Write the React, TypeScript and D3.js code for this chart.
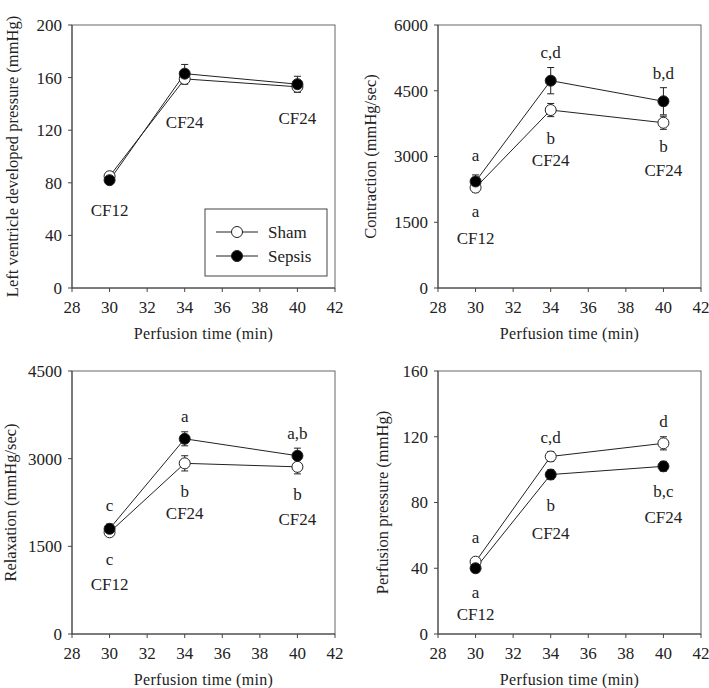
import React from "react";
import * as d3 from "d3";

// perfusion time points (min)
const times = [30, 34, 40];
const xTicks = [28, 30, 32, 34, 36, 38, 40, 42];

// Left ventricle developed pressure (mmHg)
const lvdpSham = [85, 159, 153];
const lvdpShamErr = [3, 4, 4];
const lvdpSepsis = [82, 163, 155];
const lvdpSepsisErr = [3, 7, 6];
const lvdpNotes = [
  { t: 30, v: 59, text: "CF12" },
  { t: 34, v: 126, text: "CF24" },
  { t: 40, v: 129, text: "CF24" },
];

// Contraction (mmHg/sec)
const conSham = [2290, 4060, 3770];
const conShamErr = [100, 150, 150];
const conSepsis = [2430, 4730, 4260];
const conSepsisErr = [150, 300, 310];
const conNotes = [
  { t: 30, v: 3030, text: "a" },
  { t: 30, v: 1750, text: "a" },
  { t: 30, v: 1150, text: "CF12" },
  { t: 34, v: 5380, text: "c,d" },
  { t: 34, v: 3420, text: "b" },
  { t: 34, v: 2910, text: "CF24" },
  { t: 40, v: 4900, text: "b,d" },
  { t: 40, v: 3230, text: "b" },
  { t: 40, v: 2690, text: "CF24" },
];

// Relaxation (mmHg/sec)
const relSham = [1740, 2920, 2860];
const relShamErr = [60, 130, 120];
const relSepsis = [1800, 3340, 3050];
const relSepsisErr = [80, 120, 130];
const relNotes = [
  { t: 30, v: 2210, text: "c" },
  { t: 30, v: 1280, text: "c" },
  { t: 30, v: 860, text: "CF12" },
  { t: 34, v: 3730, text: "a" },
  { t: 34, v: 2450, text: "b" },
  { t: 34, v: 2070, text: "CF24" },
  { t: 40, v: 3440, text: "a,b" },
  { t: 40, v: 2400, text: "b" },
  { t: 40, v: 1970, text: "CF24" },
];

// Perfusion pressure (mmHg)
const ppSham = [44, 108, 116];
const ppShamErr = [2, 3, 4];
const ppSepsis = [40, 97, 102];
const ppSepsisErr = [2, 3, 3];
const ppNotes = [
  { t: 30, v: 59, text: "a" },
  { t: 30, v: 25.7, text: "a" },
  { t: 30, v: 12.2, text: "CF12" },
  { t: 34, v: 119.8, text: "c,d" },
  { t: 34, v: 78.5, text: "b" },
  { t: 34, v: 61.6, text: "CF24" },
  { t: 40, v: 129.8, text: "d" },
  { t: 40, v: 87.2, text: "b,c" },
  { t: 40, v: 71.2, text: "CF24" },
];

const FONT = "'Liberation Serif', 'Times New Roman', 'DejaVu Serif', serif";
const INK = "#222";
const AXIS = "#444";

type Note = { t: number; v: number; text: string };

type PanelProps = {
  left: number;
  top: number;
  yMax: number;
  yStep: number;
  yLabel: string;
  labelGap: number;
  sham: number[];
  shamErr: number[];
  sepsis: number[];
  sepsisErr: number[];
  notes: Note[];
  legend?: boolean;
};

const W = 263;
const H = 263;

function Panel(p: PanelProps) {
  const x = d3.scaleLinear().domain([28, 42]).range([0, W]);
  const y = d3.scaleLinear().domain([0, p.yMax]).range([H, 0]);
  const yTicks = d3.range(0, p.yMax + 1, p.yStep);
  const line = d3
    .line<number>()
    .x((_, i) => x(times[i]))
    .y((d) => y(d));

  const errBars = (vals: number[], errs: number[]) =>
    vals.map((v, i) => {
      const cx = x(times[i]);
      const y1 = y(v + errs[i]);
      const y2 = y(v - errs[i]);
      return (
        <g key={i} stroke={INK} strokeWidth={1}>
          <line x1={cx} x2={cx} y1={y1} y2={y2} />
          <line x1={cx - 3.5} x2={cx + 3.5} y1={y1} y2={y1} />
          <line x1={cx - 3.5} x2={cx + 3.5} y1={y2} y2={y2} />
        </g>
      );
    });

  return (
    <g transform={`translate(${p.left},${p.top})`} style={{ fontFamily: FONT }} fill={INK}>
      <rect x={0} y={0} width={W} height={H} fill="none" stroke="#666" strokeWidth={1} />
      <line x1={0} x2={0} y1={0} y2={H} stroke={AXIS} />
      <line x1={0} x2={W} y1={H} y2={H} stroke={AXIS} />

      {yTicks.map((t) => (
        <g key={t} transform={`translate(0,${y(t)})`}>
          <line x1={-4} x2={0} stroke={AXIS} />
          <text x={-10} dy="0.35em" textAnchor="end" fontSize={17}>
            {t}
          </text>
        </g>
      ))}
      {xTicks.map((t) => (
        <g key={t} transform={`translate(${x(t)},${H})`}>
          <line y1={0} y2={4} stroke={AXIS} />
          <text y={25} textAnchor="middle" fontSize={17}>
            {t}
          </text>
        </g>
      ))}

      <text x={W / 2} y={H + 51} textAnchor="middle" fontSize={16} letterSpacing={0.3}>
        Perfusion time (min)
      </text>
      <text
        transform={`translate(${-p.labelGap},${H / 2}) rotate(-90)`}
        textAnchor="middle"
        fontSize={16.5}
      >
        {p.yLabel}
      </text>

      <path d={line(p.sham) || ""} fill="none" stroke={INK} strokeWidth={1} />
      <path d={line(p.sepsis) || ""} fill="none" stroke={INK} strokeWidth={1} />
      {errBars(p.sham, p.shamErr)}
      {errBars(p.sepsis, p.sepsisErr)}
      {p.sham.map((v, i) => (
        <circle key={"s" + i} cx={x(times[i])} cy={y(v)} r={5.5} fill="#fff" stroke={INK} strokeWidth={1} />
      ))}
      {p.sepsis.map((v, i) => (
        <circle key={"p" + i} cx={x(times[i])} cy={y(v)} r={5.5} fill="#000" stroke={INK} strokeWidth={1} />
      ))}

      {p.notes.map((n, i) => (
        <text key={i} x={x(n.t)} y={y(n.v)} dy="0.35em" textAnchor="middle" fontSize={17}>
          {n.text}
        </text>
      ))}

      {p.legend && (
        <g transform="translate(133,184)">
          <rect x={0} y={0} width={122} height={67} fill="#fff" stroke={AXIS} strokeWidth={1} />
          <line x1={11} x2={53} y1={23} y2={23} stroke={INK} />
          <circle cx={32} cy={23} r={5.5} fill="#fff" stroke={INK} />
          <text x={63} y={23} dy="0.35em" fontSize={17}>Sham</text>
          <line x1={11} x2={53} y1={47} y2={47} stroke={INK} />
          <circle cx={32} cy={47} r={5.5} fill="#000" stroke={INK} />
          <text x={63} y={47} dy="0.35em" fontSize={17}>Sepsis</text>
        </g>
      )}
    </g>
  );
}

export default function App() {
  return (
    <svg width={709} height={688} style={{ display: "block", position: "absolute", left: 0, top: 0 }}>
      <rect width={709} height={688} fill="#fff" />
      <Panel
        left={72}
        top={25}
        yMax={200}
        yStep={40}
        yLabel="Left ventricle developed pressure (mmHg)"
        labelGap={54}
        sham={lvdpSham}
        shamErr={lvdpShamErr}
        sepsis={lvdpSepsis}
        sepsisErr={lvdpSepsisErr}
        notes={lvdpNotes}
        legend
      />
      <Panel
        left={438}
        top={25}
        yMax={6000}
        yStep={1500}
        yLabel="Contraction (mmHg/sec)"
        labelGap={62}
        sham={conSham}
        shamErr={conShamErr}
        sepsis={conSepsis}
        sepsisErr={conSepsisErr}
        notes={conNotes}
      />
      <Panel
        left={72}
        top={371}
        yMax={4500}
        yStep={1500}
        yLabel="Relaxation (mmHg/sec)"
        labelGap={56}
        sham={relSham}
        shamErr={relShamErr}
        sepsis={relSepsis}
        sepsisErr={relSepsisErr}
        notes={relNotes}
      />
      <Panel
        left={438}
        top={371}
        yMax={160}
        yStep={40}
        yLabel="Perfusion pressure (mmHg)"
        labelGap={50}
        sham={ppSham}
        shamErr={ppShamErr}
        sepsis={ppSepsis}
        sepsisErr={ppSepsisErr}
        notes={ppNotes}
      />
    </svg>
  );
}
